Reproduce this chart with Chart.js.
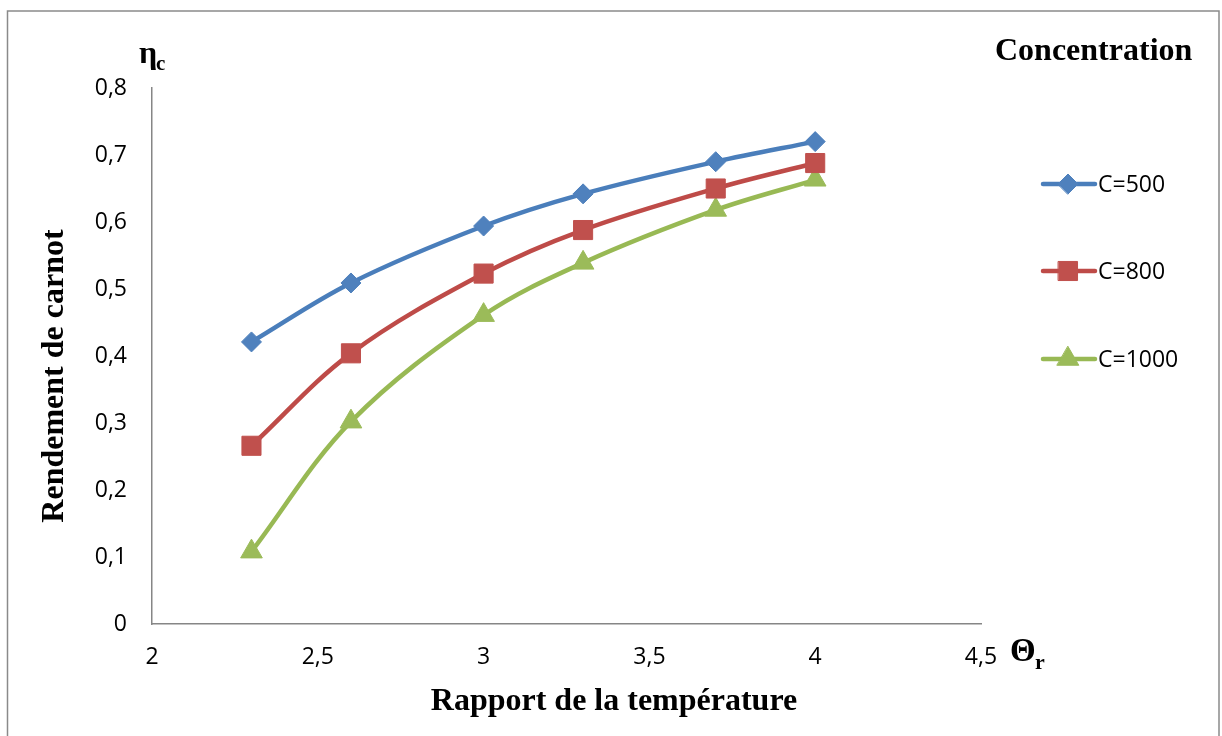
<!DOCTYPE html>
<html lang="fr">
<head>
<meta charset="UTF-8" />
<title>Rendement de carnot</title>
<script src="https://cdn.jsdelivr.net/npm/chart.js"></script>
<style>
  body { margin: 0; background: #fff; }
</style>
</head>
<body>
<canvas id="chart" width="1222" height="736"></canvas>
<script>
// rapport de la température (x) et rendement de carnot (y)
const ratio = [2.3, 2.6, 3, 3.3, 3.7, 4];
const c500 = [0.421, 0.509, 0.594, 0.642, 0.690, 0.720];
const c800 = [0.266, 0.404, 0.523, 0.588, 0.650, 0.688];
const c1000 = [0.108, 0.302, 0.461, 0.539, 0.618, 0.663];
const seriesNames = ["C=500", "C=800", "C=1000"];
const xTicks = ["2", "2,5", "3", "3,5", "4", "4,5"];
const yTicks = ["0", "0,1", "0,2", "0,3", "0,4", "0,5", "0,6", "0,7", "0,8"];

const serif = "'Liberation Serif', 'Times New Roman', serif";
const sans = "'Open Sans', sans-serif";

function toPoints(ys) {
    return ratio.map((x, i) => ({ x: x, y: ys[i] }));
}

function serie(label, ys, line, fill, style, radius) {
    return {
        label: label,
        data: toPoints(ys),
        borderColor: line,
        borderWidth: 4.5,
        backgroundColor: fill,
        pointBackgroundColor: fill,
        pointBorderColor: fill,
        pointBorderWidth: 1,
        pointStyle: style,
        pointRadius: radius,
        pointHoverRadius: radius,
        tension: 0.35,
        fill: false,
    };
}

// cadre, titres, légende
const extras = {
    id: "extras",
    beforeDraw(chart) {
        const ctx = chart.ctx;
        ctx.save();
        ctx.fillStyle = "#fff";
        ctx.fillRect(0, 0, chart.width, chart.height);
        ctx.strokeStyle = "#8a8a8a";
        ctx.lineWidth = 1.5;
        ctx.strokeRect(7.5, 11, 1211.5, 760);
        ctx.restore();
    },
    afterDraw(chart) {
        const ctx = chart.ctx;
        ctx.save();
        ctx.fillStyle = "#000";
        ctx.textBaseline = "alphabetic";

        ctx.font = "bold 32px " + serif;
        ctx.textAlign = "left";
        ctx.fillText("Concentration", 995, 60);

        ctx.fillText("\u03b7", 139, 63);
        ctx.font = "bold 21px " + serif;
        ctx.fillText("c", 156, 70);

        ctx.font = "bold 33px " + serif;
        ctx.fillText("\u0398", 1010, 661);
        ctx.font = "bold 22px " + serif;
        ctx.fillText("r", 1035, 669);

        ctx.font = "bold 32px " + serif;
        ctx.textAlign = "center";
        ctx.fillText("Rapport de la température", 614, 710);

        ctx.translate(63, 376);
        ctx.rotate(-Math.PI / 2);
        ctx.fillText("Rendement de carnot", 0, 0);
        ctx.restore();

        // légende à droite
        const rowsY = [184, 271, 359];
        chart.data.datasets.forEach((ds, i) => {
            const y = rowsY[i];
            ctx.save();
            ctx.strokeStyle = ds.borderColor;
            ctx.lineWidth = 4.5;
            ctx.lineCap = "round";
            ctx.beginPath();
            ctx.moveTo(1043, y);
            ctx.lineTo(1095, y);
            ctx.stroke();
            ctx.fillStyle = ds.pointBackgroundColor;
            ctx.strokeStyle = ds.pointBorderColor;
            ctx.lineWidth = 1;
            Chart.helpers.drawPoint(ctx, {
                pointStyle: ds.pointStyle,
                radius: ds.pointRadius,
                rotation: 0,
                borderWidth: 1,
            }, 1068, y);
            ctx.fillStyle = "#000";
            ctx.font = "23px " + sans;
            ctx.textAlign = "left";
            ctx.textBaseline = "middle";
            ctx.fillText(ds.label, 1098, y + 1);
            ctx.restore();
        });
    },
};

const ctx = document.getElementById("chart");
new Chart(ctx, {
    type: "line",
    data: {
        datasets: [
            serie(seriesNames[0], c500, "#4A7EBB", "#4F81BD", "rectRot", 10),
            serie(seriesNames[1], c800, "#BE4B48", "#C0504D", "rect", 13.5),
            serie(seriesNames[2], c1000, "#98B954", "#9BBB59", "triangle", 12.5),
        ],
    },
    options: {
        responsive: false,
        animation: false,
        layout: {
            padding: { left: 0, top: 88, right: 241, bottom: 0 },
        },
        plugins: {
            legend: { display: false },
            tooltip: { enabled: false },
        },
        scales: {
            x: {
                type: "linear",
                min: 2,
                max: 4.5,
                grid: { display: false, drawTicks: false },
                border: { display: true, color: "#868686", width: 1.5 },
                ticks: {
                    stepSize: 0.5,
                    padding: 20,
                    color: "#000",
                    font: { family: sans, size: 23 },
                    maxRotation: 0,
                    callback: (v, i) => xTicks[i],
                },
                afterFit: (scale) => { scale.height = 112; },
            },
            y: {
                type: "linear",
                min: 0,
                max: 0.8,
                grid: { display: false, drawTicks: false },
                border: { display: true, color: "#868686", width: 1.5 },
                ticks: {
                    stepSize: 0.1,
                    padding: 25,
                    color: "#000",
                    font: { family: sans, size: 23 },
                    callback: (v, i) => yTicks[i],
                },
                afterFit: (scale) => { scale.width = 152; },
            },
        },
    },
    plugins: [extras],
});
</script>
</body>
</html>
